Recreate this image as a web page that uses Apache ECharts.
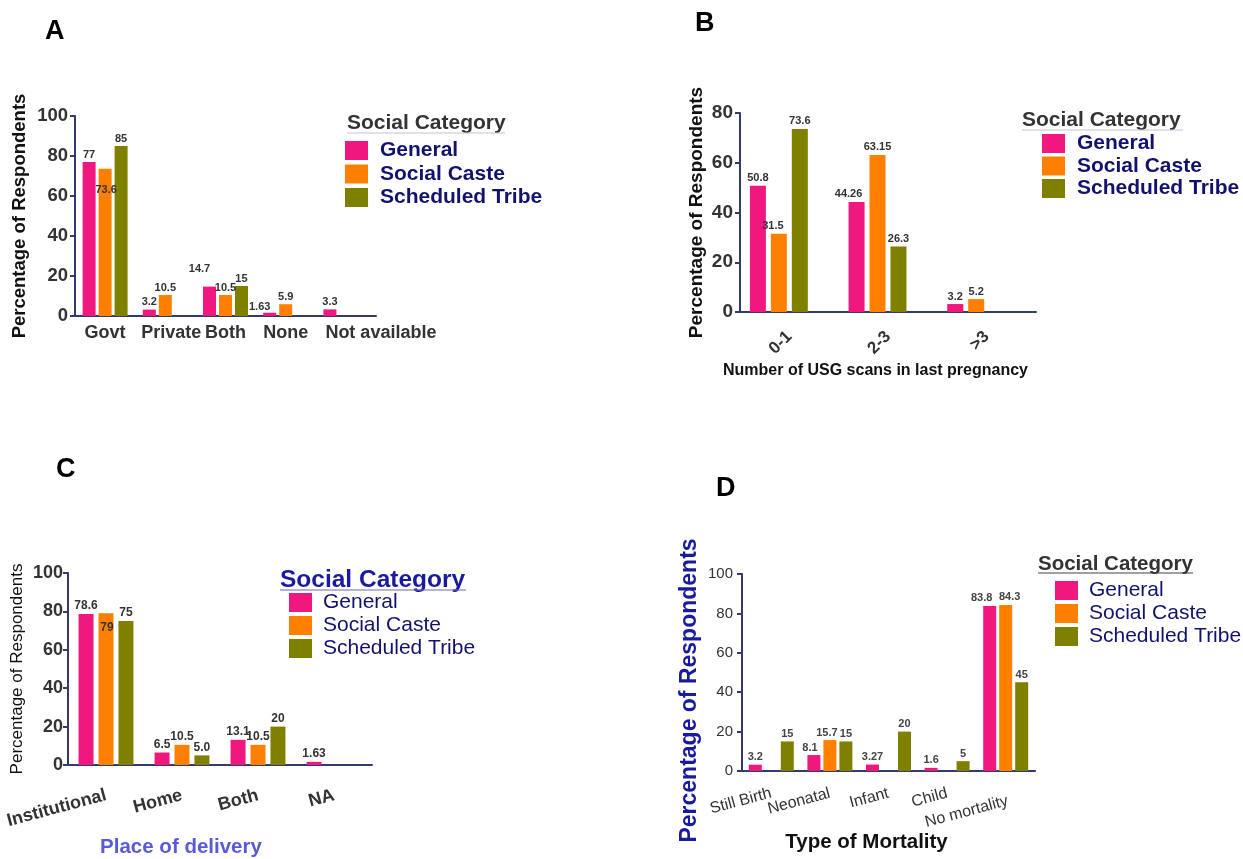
<!DOCTYPE html>
<html>
<head>
<meta charset="utf-8">
<title>Social Category – maternal health indicators</title>
<script src="https://cdn.jsdelivr.net/npm/echarts@6/dist/echarts.min.js"></script>
<style>
  html, body { margin: 0; padding: 0; background: #ffffff; }
  #chart { width: 1243px; height: 859px; }
</style>
</head>
<body>
<div id="chart"></div>
<script>
// ---- Data -------------------------------------------------------------
const seriesNames = ['General', 'Social Caste', 'Scheduled Tribe'];

// A: type of health facility used
const categoriesA = ['Govt', 'Private', 'Both', 'None', 'Not available'];
const generalA = [77, 3.2, 14.7, 1.63, 3.3];
const socialCasteA = [73.6, 10.5, 10.5, 5.9, 0];
const scheduledTribeA = [85, 0, 15, 0, 0];

// B: number of USG scans in last pregnancy
const categoriesB = ['0-1', '2-3', '>3'];
const generalB = [50.8, 44.26, 3.2];
const socialCasteB = [31.5, 63.15, 5.2];
const scheduledTribeB = [73.6, 26.3, 0];

// C: place of delivery
const categoriesC = ['Institutional', 'Home', 'Both', 'NA'];
const generalC = [78.6, 6.5, 13.1, 1.63];
const socialCasteC = [79, 10.5, 10.5, 0];
const scheduledTribeC = ['75', '5.0', '20', 0];

// D: type of mortality
const categoriesD = ['Still Birth', 'Neonatal', 'Infant', 'Child', 'No mortality'];
const generalD = [3.2, 8.1, 3.27, 1.6, 83.8];
const socialCasteD = [0, 15.7, 0, 0, 84.3];
const scheduledTribeD = [15, 15, 20, 5, 45];

// y-axis ranges (max, step) per panel
const yMaxA = 100, yStepA = 20;
const yMaxB = 80, yStepB = 20;
const yMaxC = 100, yStepC = 20;
const yMaxD = 100, yStepD = 20;

// ---- Styling ------------------------------------------------------------
const FONT = '"Liberation Sans", Arial, sans-serif';
const colors = ['#f0187f', '#ff8000', '#7f7f00'];
const axisColor = '#343a6e';
const navy = '#12126e';

const panels = [
  {
    cats: categoriesA, values: [generalA, socialCasteA, scheduledTribeA],
    grid: { left: 75, top: 116, width: 301, height: 200 },
    yMax: yMaxA, yStep: yStepA,
    barWidth: 13, barGap: '23%',
    yLabel: { fontSize: 18.5, fontWeight: 'bold', color: '#333', margin: 7 },
    xLabel: { fontSize: 18, fontWeight: 'bold', color: '#333', rotate: 0, margin: 8 },
    xPad: { 'Private': [0, 0, 0, 12], 'Not available': [0, 0, 0, 70] },
    yName: 'Percentage of Respondents', yNameGap: 46,
    yNameStyle: { fontSize: 18.5, fontWeight: 'bold', color: '#111' },
    valueLabel: { fontSize: 11, fontWeight: 'bold', color: '#333' },
    // individual label nudges: [seriesIndex][dataIndex]
    nudges: { 1: { 0: [1, 29] }, 0: { 2: [-10, -10], 3: [-10, 2] } }
  },
  {
    cats: categoriesB, values: [generalB, socialCasteB, scheduledTribeB],
    grid: { left: 740, top: 113, width: 296, height: 199 },
    yMax: yMaxB, yStep: yStepB,
    barWidth: 16, barGap: '31%',
    // an empty trailing slot keeps each bar cluster left of its tick
    trailingSlot: true,
    yLabel: { fontSize: 19, fontWeight: 'bold', color: '#333', margin: 7 },
    xLabel: { fontSize: 17, fontWeight: 'bold', color: '#333', rotate: 45, margin: 22 },
    yName: 'Percentage of Respondents', yNameGap: 34,
    yNameStyle: { fontSize: 19, fontWeight: 'bold', color: '#111' },
    xName: 'Number of USG scans in last pregnancy', xNameGap: 51,
    xNameStyle: { fontSize: 16, fontWeight: 'bold', color: '#111', padding: [0, 25, 0, 0] },
    valueLabel: { fontSize: 11, fontWeight: 'bold', color: '#333' },
    nudges: { 0: { 1: [-8, 0] }, 1: { 0: [-6, 0] } }
  },
  {
    cats: categoriesC, values: [generalC, socialCasteC, scheduledTribeC],
    grid: { left: 68, top: 573, width: 304, height: 198 },
    yMax: yMaxC, yStep: yStepC,
    barWidth: 15, barGap: '33%',
    yLabel: { fontSize: 18, fontWeight: 'bold', color: '#333', margin: 5 },
    xLabel: { fontSize: 18, fontWeight: 'bold', color: '#333', rotate: 15, margin: 30 },
    yName: 'Percentage of Respondents', yNameGap: 42,
    yNameStyle: { fontSize: 17, fontWeight: 'normal', color: '#111' },
    xName: 'Place of delivery', xNameGap: 72,
    xNameStyle: { fontSize: 20.5, fontWeight: 'bold', color: '#5a5ad8', padding: [0, 78, 0, 0] },
    valueLabel: { fontSize: 12, fontWeight: 'bold', color: '#333' },
    nudges: { 1: { 0: [1, 22] } }
  },
  {
    cats: categoriesD, values: [generalD, socialCasteD, scheduledTribeD],
    grid: { left: 742, top: 574, width: 293, height: 197 },
    yMax: yMaxD, yStep: yStepD,
    barWidth: 13, barGap: '23%',
    yLabel: { fontSize: 15, fontWeight: 'normal', color: '#333', margin: 9 },
    xLabel: { fontSize: 16, fontWeight: 'normal', color: '#333', rotate: 15, margin: 22 },
    xPad: { 'No mortality': [16, 0, 0, 0] },
    yName: 'Percentage of Respondents', yNameGap: 41,
    yNameStyle: { fontSize: 23, fontWeight: 'bold', color: '#1a1aa0', padding: [0, 36, 0, 0] },
    xName: 'Type of Mortality', xNameGap: 61,
    xNameStyle: { fontSize: 20.5, fontWeight: 'bold', color: '#111', padding: [0, 44, 0, 0] },
    valueLabel: { fontSize: 11, fontWeight: 'bold', color: '#444' },
    nudges: { 0: { 1: [-4, 0], 4: [-8, 0] }, 1: { 1: [-3, 0], 4: [4, 0] } }
  }
];

// ---- Option assembly ---------------------------------------------------
const grids = [], xAxes = [], yAxes = [], series = [];

panels.forEach((p, pi) => {
  grids.push(Object.assign({ containLabel: false }, p.grid));

  const xLabel = Object.assign({ fontFamily: FONT, interval: 0 }, p.xLabel);
  if (p.xPad) {
    const rich = {};
    Object.keys(p.xPad).forEach((k, ki) => {
      rich['p' + ki] = {
        fontSize: p.xLabel.fontSize, fontWeight: p.xLabel.fontWeight,
        fontFamily: FONT, color: p.xLabel.color, padding: p.xPad[k]
      };
    });
    xLabel.formatter = v => {
      const ki = Object.keys(p.xPad).indexOf(v);
      return ki >= 0 ? '{p' + ki + '|' + v + '}' : v;
    };
    xLabel.rich = rich;
  }

  xAxes.push({
    type: 'category', gridIndex: pi, data: p.cats,
    axisLine: { lineStyle: { color: axisColor, width: 2 } },
    axisTick: { alignWithLabel: true, length: 6, lineStyle: { color: axisColor, width: 2 } },
    axisLabel: xLabel,
    name: p.xName || '', nameLocation: 'middle', nameGap: p.xNameGap || 0,
    nameTextStyle: Object.assign({ fontFamily: FONT }, p.xNameStyle || {}),
    splitLine: { show: false }
  });

  yAxes.push({
    type: 'value', gridIndex: pi, min: 0, max: p.yMax, interval: p.yStep,
    axisLine: { show: true, lineStyle: { color: axisColor, width: 2 } },
    axisTick: { show: true, length: 5, lineStyle: { color: axisColor, width: 2 } },
    axisLabel: Object.assign({ fontFamily: FONT }, p.yLabel),
    splitLine: { show: false },
    name: p.yName, nameLocation: 'middle', nameGap: p.yNameGap,
    nameTextStyle: Object.assign({ fontFamily: FONT }, p.yNameStyle)
  });

  p.values.forEach((vals, si) => {
    const nudge = p.nudges[si] || {};
    series.push({
      type: 'bar', name: seriesNames[si],
      xAxisIndex: pi, yAxisIndex: pi,
      barWidth: p.barWidth, barGap: p.barGap,
      itemStyle: { color: colors[si] },
      label: Object.assign({
        show: true, position: 'top', distance: 2, fontFamily: FONT,
        formatter: prm => (Number(prm.value) === 0 ? '' : String(prm.value))
      }, p.valueLabel),
      data: vals.map((v, i) => nudge[i] ? { value: v, label: { offset: nudge[i] } } : v)
    });
  });

  if (p.trailingSlot) {
    series.push({
      type: 'bar', name: 'slot', xAxisIndex: pi, yAxisIndex: pi,
      barWidth: p.barWidth, barGap: p.barGap, data: [], silent: true
    });
  }
});

// Legends, one per panel
const legendSpecs = [
  { left: 345, top: 140, fontSize: 21, fontWeight: 'bold', gap: 2.5, textPad: 7 },
  { left: 1042, top: 133, fontSize: 21, fontWeight: 'bold', gap: 1.5, textPad: 7 },
  { left: 289, top: 592, fontSize: 21, fontWeight: 'normal', gap: 2, textPad: 6 },
  { left: 1055, top: 580, fontSize: 21, fontWeight: 'normal', gap: 2, textPad: 6 }
];
const legends = legendSpecs.map(s => ({
  orient: 'vertical', left: s.left, top: s.top, padding: 0,
  itemWidth: 23, itemHeight: 19, itemGap: s.gap, icon: 'rect',
  selectedMode: false,
  data: seriesNames,
  textStyle: {
    fontFamily: FONT, fontSize: s.fontSize, fontWeight: s.fontWeight,
    color: navy, lineHeight: 19, padding: [0, 0, 0, s.textPad]
  }
}));

// Legend headings with their underlines
const headings = [
  { x: 347, y: 123, size: 21, color: '#333', line: '#c4c4d0', ly: 133, w: 158 },
  { x: 1022, y: 120, size: 21, color: '#333', line: '#c4c4d0', ly: 130, w: 161 },
  { x: 280, y: 580, size: 24.5, color: '#1a1aa0', line: '#6a6ab0', ly: 590, w: 186 },
  { x: 1038, y: 564, size: 20.5, color: '#333', line: '#444', ly: 573, w: 155 }
];
const graphics = [];
headings.forEach(h => {
  graphics.push({
    type: 'text', x: h.x, y: h.y,
    style: {
      text: 'Social Category', font: 'bold ' + h.size + 'px ' + FONT,
      fill: h.color, textAlign: 'left', textVerticalAlign: 'middle'
    }
  });
  graphics.push({
    type: 'line',
    shape: { x1: h.x, y1: h.ly, x2: h.x + h.w, y2: h.ly },
    style: { stroke: h.line, lineWidth: 1.2 }
  });
});

// Panel letters
const letters = [
  { text: 'A', left: 45, top: 18 },
  { text: 'B', left: 695, top: 10 },
  { text: 'C', left: 56, top: 456 },
  { text: 'D', left: 716, top: 475 }
].map(t => ({
  text: t.text, left: t.left, top: t.top, padding: 0,
  textStyle: { fontFamily: FONT, fontSize: 27, fontWeight: 'bold', color: '#000' }
}));

const chart = echarts.init(document.getElementById('chart'), null, { renderer: 'canvas' });
chart.setOption({
  backgroundColor: '#ffffff',
  animation: false,
  title: letters,
  grid: grids,
  xAxis: xAxes,
  yAxis: yAxes,
  legend: legends,
  series: series,
  graphic: graphics
});
</script>
</body>
</html>
